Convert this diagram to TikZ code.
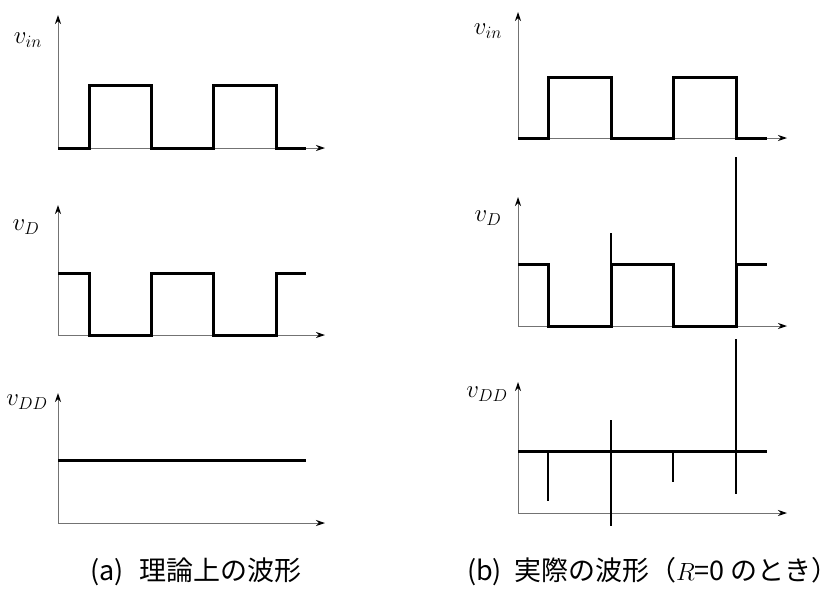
\documentclass[tikz,border=0pt]{standalone}
\usepackage{fontspec}
\newfontfamily\jpfont{Noto Sans CJK JP}
\usetikzlibrary{arrows.meta}

\newcommand{\sigsub}[1]{v_{\scriptscriptstyle #1}}

\begin{document}
\begin{tikzpicture}[
    x=1pt, y=-1pt,
    >={Stealth[length=9pt,width=6pt,color=black]},
    axis/.style={->, draw=black!55, line width=1pt},
    wave/.style={line width=3pt, line join=miter},
    spike/.style={line width=2.2pt},
    siglabel/.style={font=\fontsize{38}{40}\selectfont, inner sep=0pt},
    caption/.style={font=\fontsize{27}{30}\selectfont\jpfont, inner sep=0pt}
]
\useasboundingbox (0,0) rectangle (840,590);

% (a) theoretical waveforms
\draw[axis] (58,148) -- (325,148);
\draw[axis] (58,148) -- (58,15);
\node[siglabel] (vinA) at (28,40) {$\sigsub{in}$};
\draw[wave] (58,148) -| (89,85) -| (151,148) -| (213,85) -| (276,148) -- (306,148);

\draw[axis] (58,335) -- (325,335);
\draw[axis] (58,335) -- (58,205);
\node[siglabel] (vdA) at (26,227) {$\sigsub{D}$};
\draw[wave] (58,273) -| (89,335) -| (151,273) -| (213,335) -| (276,273) -- (306,273);

\draw[axis] (58,523) -- (325,523);
\draw[axis] (58,523) -- (58,393);
\node[siglabel] (vddA) at (27,402) {$\sigsub{DD}$};
\draw[wave] (58,460) -- (306,460);

\node[caption] (capA) at (196,572) {(a)\hspace{0.6em}理論上の波形};

% (b) actual waveforms
\draw[axis] (518,138) -- (787,138);
\draw[axis] (518,138) -- (518,12);
\node[siglabel] (vinB) at (488,31) {$\sigsub{in}$};
\draw[wave] (518,138) -| (548,77) -| (611,138) -| (673,77) -| (736,138) -- (767,138);

\draw[axis] (518,326) -- (787,326);
\draw[axis] (518,326) -- (518,197);
\node[siglabel] (vdB) at (488,218) {$\sigsub{D}$};
\draw[wave] (518,264) -| (548,326) -| (611,264) -| (673,326) -| (736,264) -- (767,264);
\draw[spike] (611,264) -- (611,233);
\draw[spike] (736,264) -- (736,157);

\draw[axis] (518,513) -- (787,513);
\draw[axis] (518,513) -- (518,382);
\node[siglabel] (vddB) at (487,394) {$\sigsub{DD}$};
\draw[wave] (518,451) -- (767,451);
\draw[spike] (548,451) -- (548,501);
\draw[spike] (611,420) -- (611,526);
\draw[spike] (673,451) -- (673,482);
\draw[spike] (736,339) -- (736,494);

\node[caption] (capB) at (653,572) {(b)\hspace{0.45em}実際の波形（$R$=0 のとき）};
\end{tikzpicture}
\end{document}
